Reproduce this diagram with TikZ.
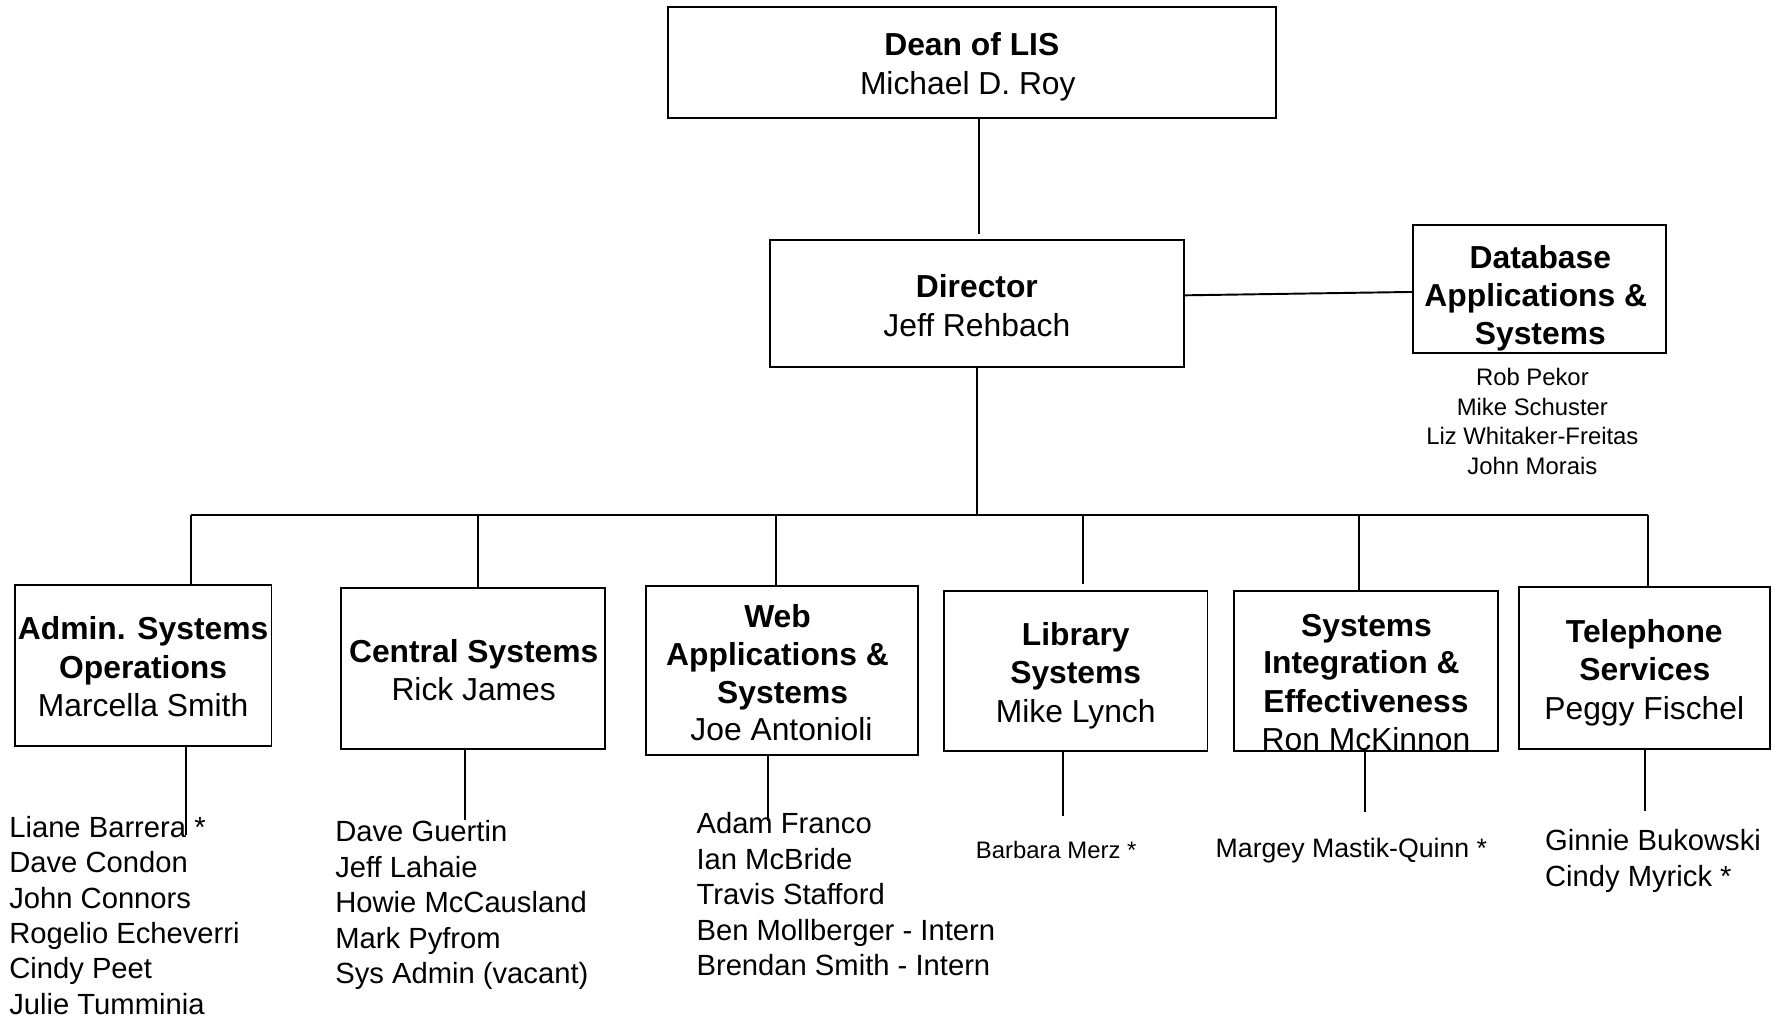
\documentclass[tikz,border=0pt]{standalone}
\usepackage{fontspec}
\setmainfont{Liberation Sans}
\begin{document}
\begin{tikzpicture}[x=1pt,y=-1pt,
  ln/.style={line width=1.7pt},
  box/.style={draw, line width=1.7pt, inner sep=0pt, outer sep=0pt},
  hd/.style={anchor=base, inner sep=0pt, font=\fontsize{28}{34}\selectfont\bfseries},
  nm/.style={anchor=base, inner sep=0pt, font=\fontsize{28}{34}\selectfont},
  lst/.style={anchor=base west, inner sep=0pt, font=\fontsize{25.7}{31.2}\selectfont},
  sm/.style={anchor=base, inner sep=0pt, font=\fontsize{21}{26}\selectfont},
  smw/.style={anchor=base west, inner sep=0pt, font=\fontsize{21}{26}\selectfont},
  mdw/.style={anchor=base west, inner sep=0pt, font=\fontsize{23.5}{28}\selectfont},
]
\useasboundingbox (0,0) rectangle (1567,896);

% boxes
\node[box, minimum width=535pt, minimum height=98pt] (dean) at (855.5,55) {};
\node[box, minimum width=364pt, minimum height=112pt] (dir) at (860,267) {};
\node[box, minimum width=223pt, minimum height=113pt] (db) at (1355.5,254.5) {};
\node[box, minimum width=226pt, minimum height=142pt] (adm) at (126,586) {};
\node[box, minimum width=233pt, minimum height=141pt] (cen) at (416.5,588.5) {};
\node[box, minimum width=239pt, minimum height=149pt] (web) at (688.5,590.5) {};
\node[box, minimum width=232pt, minimum height=141pt] (lib) at (947,590.5) {};
\node[box, minimum width=233pt, minimum height=141pt] (sie) at (1202.5,590.5) {};
\node[box, minimum width=221pt, minimum height=142pt] (tel) at (1447.5,588) {};

% box texts
\node[hd] (dean-1) at (855.5,49) {Dean of LIS};
\node[nm] (dean-2) at (852,83) {Michael D. Roy};
\node[hd] (dir-1) at (860,262) {Director};
\node[nm] (dir-2) at (860,296) {Jeff Rehbach};
\node[hd] (db-1) at (1356,236) {Database};
\node[hd] (db-2) at (1352,270) {Applications \&};
\node[hd] (db-3) at (1356,303) {Systems};
\node[hd] (adm-1) at (126,563) {Admin. Systems};
\node[hd] (adm-2) at (126,597) {Operations};
\node[nm] (adm-3) at (126,631) {Marcella Smith};
\node[hd] (cen-1) at (417,583) {Central Systems};
\node[nm] (cen-2) at (417,617) {Rick James};
\node[hd] (web-1) at (684.5,552) {Web};
\node[hd] (web-2) at (684.5,586) {Applications \&};
\node[hd] (web-3) at (689,619) {Systems};
\node[nm] (web-4) at (688,652) {Joe Antonioli};
\node[hd] (lib-1) at (947,568) {Library};
\node[hd] (lib-2) at (947,602) {Systems};
\node[nm] (lib-3) at (947,636) {Mike Lynch};
\node[hd] (sie-1) at (1203,560) {Systems};
\node[hd] (sie-2) at (1198.5,593) {Integration \&};
\node[hd] (sie-3) at (1202.5,627) {Effectiveness};
\node[nm] (sie-4) at (1202.5,661) {Ron McKinnon};
\node[hd] (tel-1) at (1447.5,566) {Telephone};
\node[hd] (tel-2) at (1448,599) {Services};
\node[nm] (tel-3) at (1447.5,633) {Peggy Fischel};

% staff lists
\foreach \t [count=\i from 0] in {Rob Pekor, Mike Schuster, Liz Whitaker-Freitas, John Morais}
  \node[sm] (dbl-\i) at (1349,{339.5+26*\i}) {\t};
\foreach \t [count=\i from 0] in {Liane Barrera *, Dave Condon, John Connors, Rogelio Echeverri, Cindy Peet, Julie Tumminia}
  \node[lst] (adml-\i) at (8,{737+31.2*\i}) {\t};
\foreach \t [count=\i from 0] in {Dave Guertin, Jeff Lahaie, Howie McCausland, Mark Pyfrom, {Sys Admin (vacant)}}
  \node[lst] (cenl-\i) at (295,{741+31.2*\i}) {\t};
\foreach \t [count=\i from 0] in {Adam Franco, Ian McBride, Travis Stafford, Ben Mollberger - Intern, Brendan Smith - Intern}
  \node[lst] (webl-\i) at (613,{734+31.2*\i}) {\t};
\node[smw] (libl-0) at (859,755.5) {Barbara Merz *};
\node[mdw] (siel-0) at (1070,754.5) {Margey Mastik-Quinn *};
\node[lst] (tell-0) at (1360,749) {Ginnie Bukowski};
\node[lst] (tell-1) at (1360,780) {Cindy Myrick *};

% connectors
\coordinate (dd) at (862,206);
\draw[ln] (dean.south -| dd) -- (dd);
\draw[ln] ([yshift=7pt]dir.east) -- ([yshift=-2.5pt]db.west);
\coordinate (bc) at (860,453);
\draw[ln] (dir.south) -- (bc);
\coordinate (b1) at (168,453);
\coordinate (b2) at (421,453);
\coordinate (b3) at (683,453);
\coordinate (b4) at (953,453);
\coordinate (b5) at (1196,453);
\coordinate (b6) at (1451,453);
\draw[ln] (b1) -- (b6);
\draw[ln] (b1) -- (b1 |- adm.north);
\draw[ln] (b2) -- (b2 |- cen.north);
\draw[ln] (b3) -- (b3 |- web.north);
\draw[ln] (b4) -- ([yshift=6pt]b4 |- lib.north);
\draw[ln] (b5) -- (b5 |- sie.north);
\draw[ln] (b6) -- (b6 |- tel.north);

\coordinate (s1) at (164,735);
\coordinate (s2) at (409,722);
\coordinate (s3) at (676,723);
\coordinate (s4) at (936,718);
\coordinate (s5) at (1202,715);
\coordinate (s6) at (1448,714);
\draw[ln] (adm.south -| s1) -- (s1);
\draw[ln] (cen.south -| s2) -- (s2);
\draw[ln] (web.south -| s3) -- (s3);
\draw[ln] (lib.south -| s4) -- (s4);
\draw[ln] (sie.south -| s5) -- (s5);
\draw[ln] (tel.south -| s6) -- (s6);
\end{tikzpicture}
\end{document}
